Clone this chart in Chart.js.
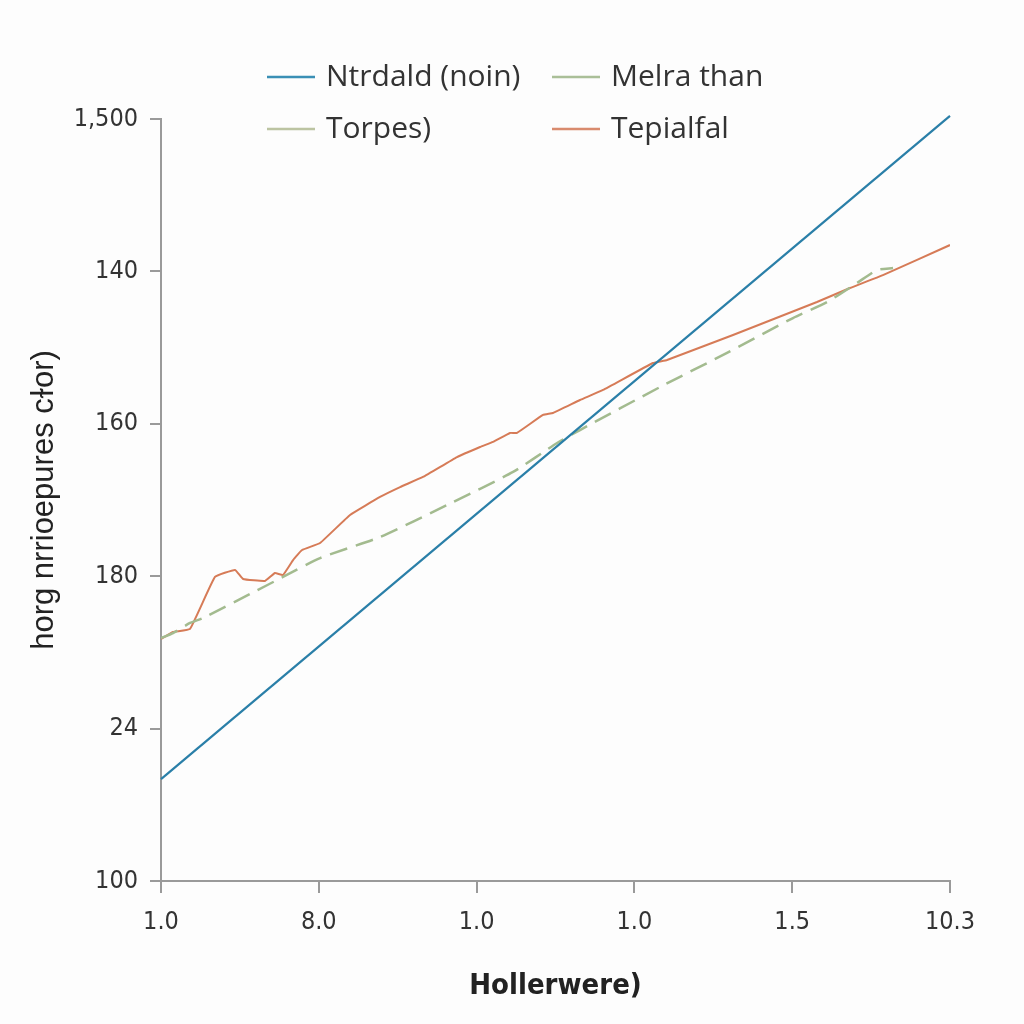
<!DOCTYPE html>
<html>
<head>
<meta charset="utf-8">
<script src="https://cdn.jsdelivr.net/npm/chart.js@4"></script>
<style>
  html, body { margin: 0; padding: 0; background: #fdfdfd; }
  #wrap { width: 1024px; height: 1024px; }
</style>
</head>
<body>
<div id="wrap"><canvas id="c" width="1024" height="1024"></canvas></div>
<script>
// Tick labels (positions 0..5 on each axis)
const xTickLabels = ['1.0', '8.0', '1.0', '1.0', '1.5', '10.3'];
const yTickLabels = ['100', '24', '180', '160', '140', '1,500'];

// Series names
const seriesNames = ['Ntrdald (noin)', 'Melra than', 'Torpes)', 'Tepialfal'];

// Ntrdald (noin) - straight line
const ntrdaldX = [0, 5];
const ntrdaldY = [0.669, 5.02];

// Melra than - dashed green
const melraX = [0, 0.076, 0.184, 0.266, 0.564, 0.773, 1.008, 1.388, 1.812, 2.231, 2.510, 2.655, 3.162, 3.587, 4.005, 4.221, 4.411, 4.537, 4.639];
const melraY = [1.594, 1.627, 1.693, 1.726, 1.883, 1.995, 2.119, 2.257, 2.467, 2.684, 2.874, 2.959, 3.241, 3.465, 3.694, 3.799, 3.924, 4.009, 4.022];

// Torpes) - no visible separate line
const torpesX = [];
const torpesY = [];

// Tepialfal - orange
const tepX = [0, 0.076, 0.184, 0.342, 0.469, 0.520, 0.659, 0.722, 0.773, 0.837, 0.894, 1.008, 1.198, 1.388, 1.515, 1.660, 1.876, 2.022, 2.104, 2.212, 2.256, 2.421, 2.484, 2.655, 2.801, 3.118, 3.207, 3.625, 4.157, 4.366, 4.575, 5.0];
const tepY = [1.588, 1.634, 1.654, 1.995, 2.041, 1.982, 1.969, 2.021, 2.008, 2.106, 2.172, 2.218, 2.402, 2.520, 2.585, 2.651, 2.782, 2.848, 2.881, 2.940, 2.940, 3.058, 3.071, 3.156, 3.222, 3.399, 3.419, 3.583, 3.799, 3.891, 3.976, 4.173];

const xTitle = 'Hollerwere)';
const yTitle = 'horg nrrioepures cɫor)';

const colors = ['#2a7fa8', '#a3bb8f', '#bcc6a4', '#d67b57'];
const legendColors = ['#3a8fb5', '#aabf98', '#bcc4a2', '#d98b6e'];

function pts(xs, ys) { return xs.map((x, i) => ({ x: x, y: ys[i] })); }

const legendPlugin = {
  id: 'gridLegend',
  afterDraw(chart) {
    const ctx = chart.ctx;
    const items = [
      { i: 0, lx: 267, ly: 77 },
      { i: 1, lx: 552, ly: 77 },
      { i: 2, lx: 267, ly: 129 },
      { i: 3, lx: 552, ly: 129 }
    ];
    ctx.save();
    ctx.font = '30px "Open Sans", sans-serif';
    ctx.textBaseline = 'middle';
    ctx.textAlign = 'left';
    items.forEach(it => {
      ctx.strokeStyle = legendColors[it.i];
      ctx.lineWidth = 2.5;
      ctx.beginPath();
      ctx.moveTo(it.lx, it.ly);
      ctx.lineTo(it.lx + 48, it.ly);
      ctx.stroke();
      ctx.fillStyle = '#333333';
      ctx.fillText(seriesNames[it.i], it.lx + 59, it.ly);
    });
    ctx.restore();
  }
};

new Chart(document.getElementById('c'), {
  type: 'line',
  data: {
    datasets: [
      { label: seriesNames[0], data: pts(ntrdaldX, ntrdaldY), borderColor: colors[0], borderWidth: 2.2, pointRadius: 0, tension: 0, clip: false },
      { label: seriesNames[1], data: pts(melraX, melraY), borderColor: colors[1], borderWidth: 2.5, borderDash: [18, 9], pointRadius: 0, tension: 0.2 },
      { label: seriesNames[2], data: pts(torpesX, torpesY), borderColor: colors[2], borderWidth: 2.5, pointRadius: 0 },
      { label: seriesNames[3], data: pts(tepX, tepY), borderColor: colors[3], borderWidth: 2, pointRadius: 0, tension: 0.1 }
    ]
  },
  options: {
    responsive: false,
    animation: false,
    layout: { padding: { top: 119, right: 74, left: 16, bottom: 20 } },
    plugins: { legend: { display: false }, tooltip: { enabled: false } },
    scales: {
      x: {
        type: 'linear', min: 0, max: 5,
        afterFit(s) { s.height = 1024 - 881 - 20; },
        border: { color: '#9a9a9a', width: 2 },
        grid: { display: true, drawOnChartArea: false, color: '#9a9a9a', lineWidth: 2, tickLength: 12 },
        ticks: {
          stepSize: 1, padding: 14, color: '#333333',
          font: { family: '"Liberation Sans Narrow", "DejaVu Sans Condensed", sans-serif', size: 25 },
          callback: (v) => xTickLabels[Math.round(v)]
        },
        title: {
          display: true, text: xTitle, color: '#222222', padding: { top: 0, bottom: 0 },
          font: { family: '"Liberation Sans Narrow", "DejaVu Sans Condensed", sans-serif', size: 29, weight: 'bold' }
        }
      },
      y: {
        type: 'linear', min: 0, max: 5,
        afterFit(s) { s.width = 161 - 16; },
        border: { color: '#9a9a9a', width: 2 },
        grid: { display: true, drawOnChartArea: false, color: '#9a9a9a', lineWidth: 2, tickLength: 11 },
        ticks: {
          stepSize: 1, padding: 12, color: '#333333',
          font: { family: '"Liberation Sans Narrow", "DejaVu Sans Condensed", sans-serif', size: 25 },
          callback: (v) => yTickLabels[Math.round(v)]
        },
        title: {
          display: true, text: yTitle, color: '#222222', padding: { top: 10, bottom: 0 },
          font: { family: '"Liberation Sans", sans-serif', size: 31 }
        }
      }
    }
  },
  plugins: [legendPlugin]
});
</script>
</body>
</html>
